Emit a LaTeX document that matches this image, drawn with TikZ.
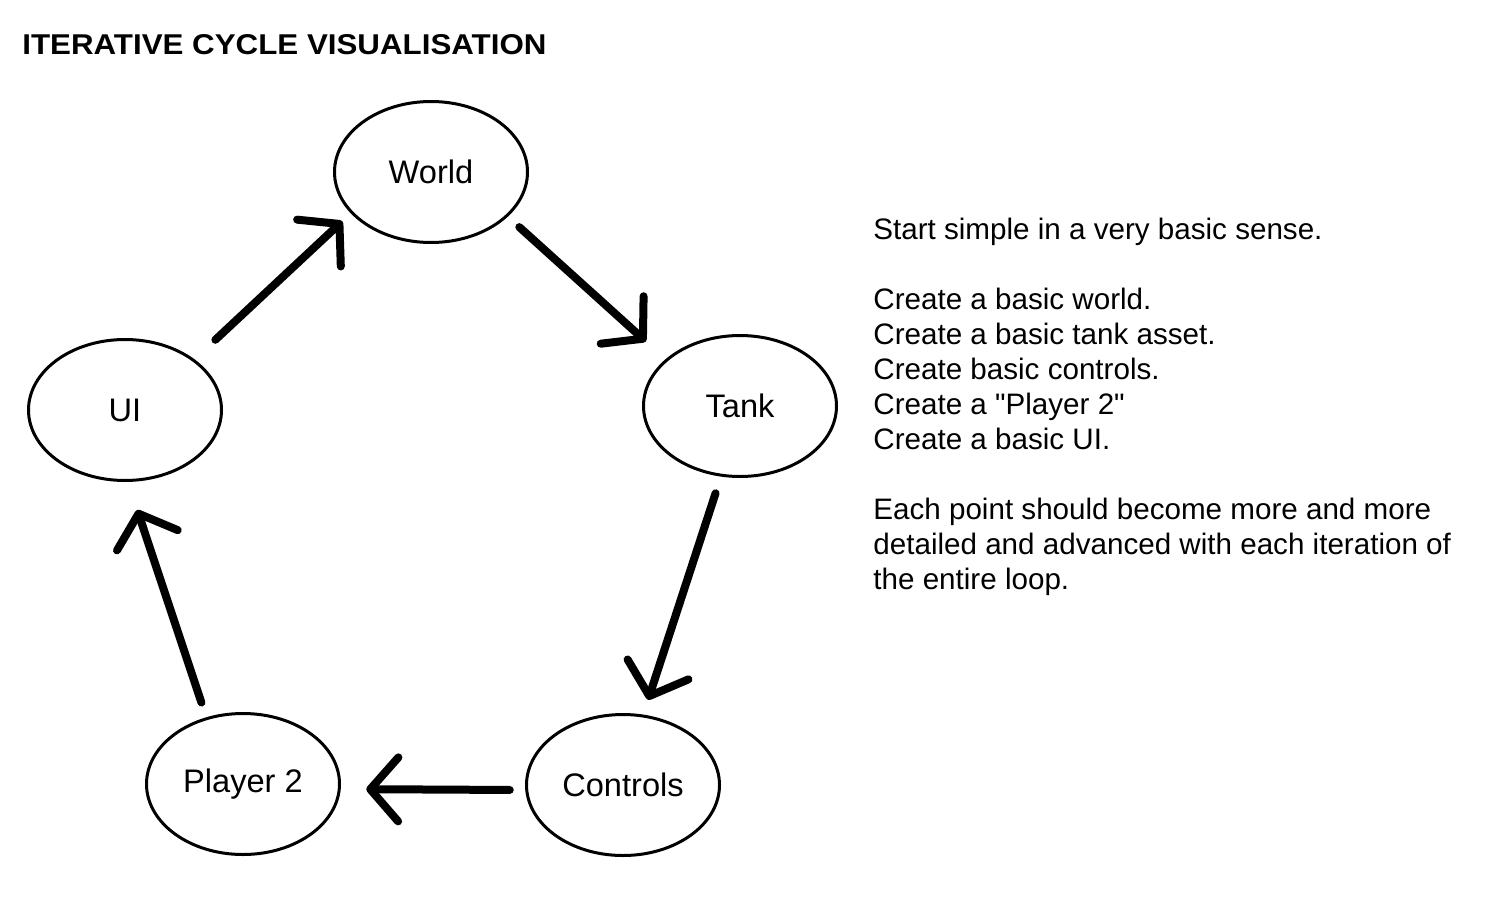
\documentclass[tikz,border=0pt]{standalone}
\usepackage{fontspec}
\setmainfont{Liberation Sans}
\usepackage{tikz}
\usetikzlibrary{shapes.geometric}
\usetikzlibrary{arrows.meta}
\tikzstyle{NodeCycle}=[ellipse,draw=black,line width=1.5pt,minimum width=96.5pt,minimum height=70.5pt,
inner sep=0pt,outer sep=0pt,font=\fontsize{16.3}{18}\selectfont]
\tikzstyle{EdgeCycle}=[black,line width=4pt,line cap=round,
-{Straight Barb[length=14pt,width=32pt,round]}]
\begin{document}
\begin{tikzpicture}[x=0.5pt,y=-0.5pt]
        \useasboundingbox (0,0) rectangle (1509,910);
        % title
        \node[anchor=south west,inner sep=0pt](title)at(22,55)
            {\resizebox{262pt}{10pt}{\bfseries ITERATIVE CYCLE VISUALISATION}};
        % cycle
        \node[NodeCycle](world)at(431,172){World};
        \node[NodeCycle](tank)at(740,406){Tank};
        \node[NodeCycle](controls)at(623,785){Controls};
        \node[NodeCycle](player)at(243,784){Player 2};
        \node[NodeCycle](ui)at(125,410){UI};
        \draw[EdgeCycle,shorten <=15pt,shorten >=6.5pt](ui.36.6)--(world.207);
        \draw[EdgeCycle,shorten <=8.5pt,shorten >=14pt](world.-30.7)--(tank.148.4);
        \draw[EdgeCycle,shorten <=9.5pt,shorten >=8.5pt](tank.-105.1)--(controls.74);
        \draw[EdgeCycle,shorten <=8.5pt,shorten >=13.5pt](controls.183)--(player.-3.2);
        \draw[EdgeCycle,shorten <=8.5pt,shorten >=15.5pt](player.119.6)--(ui.-88.3);
        % notes (base = last line)
        \node[anchor=base west,align=left,inner sep=0pt,font=\fontsize{14.8}{17.5}\selectfont](notes)at(873,589)
            {Start simple in a very basic sense.\\[17.5pt]
            Create a basic world.\\
            Create a basic tank asset.\\
            Create basic controls.\\
            Create a \textquotedbl Player 2\textquotedbl\\
            Create a basic UI.\\[17.5pt]
            Each point should become more and more\\
            detailed and advanced with each iteration of\\
            the entire loop.};
    \end{tikzpicture}
\end{document}
